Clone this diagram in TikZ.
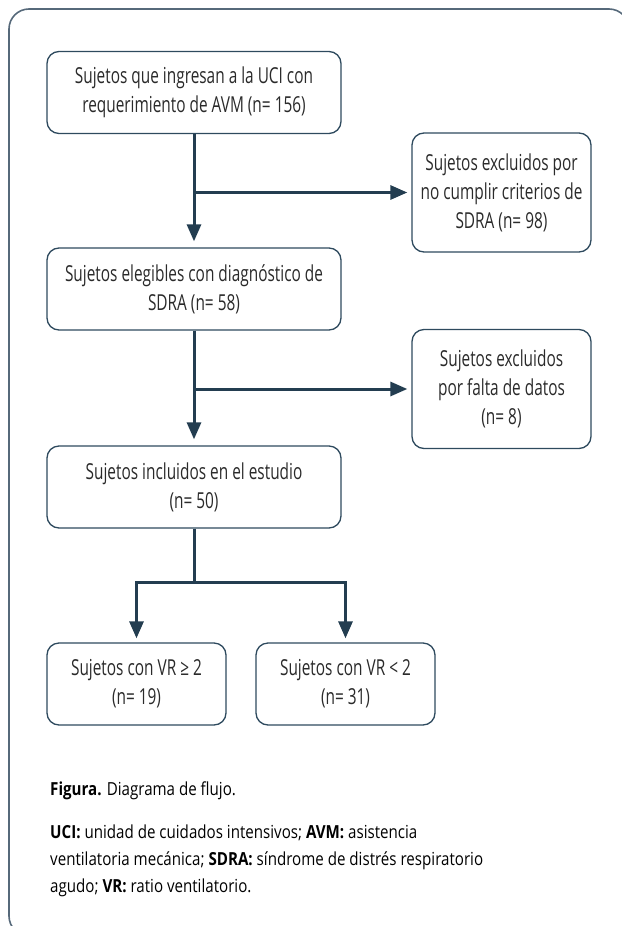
\documentclass[tikz,border=0pt]{standalone}
\usepackage{fontspec}
\setmainfont{Open Sans}[FakeStretch=0.70]
\newfontfamily\capfont{Open Sans}[FakeStretch=0.84]
\usetikzlibrary{arrows.meta,calc}
\definecolor{connc}{HTML}{233D50}
\definecolor{boxline}{HTML}{2E4A5E}
\definecolor{framec}{HTML}{56697A}
\definecolor{txt}{HTML}{2A2A2A}
\begin{document}
\begin{tikzpicture}[x=1pt,y=-1pt,
  basebox/.style={draw=boxline, line width=1.3pt, rounded corners=12pt, inner sep=0pt,
    align=center, text=txt, font=\fontsize{22}{29}\selectfont},
  widebox/.style={basebox, minimum width=294pt, minimum height=82pt},
  sidebox/.style={basebox, minimum width=179pt, minimum height=119pt},
  smallbox/.style={basebox, minimum width=179pt, minimum height=82pt},
  connline/.style={draw=connc, line width=3pt},
  conn/.style={connline, -{Triangle[length=17pt,width=14pt]}, shorten >=6pt},
  captext/.style={anchor=base west, inner sep=0pt, text=black, font=\capfont\fontsize{18}{28}\selectfont}
]
\useasboundingbox (0,0) rectangle (621,926);
% frame
\draw[framec, line width=1.6pt, rounded corners=20pt] (9,9) rectangle (629,936);

% boxes
\node[widebox] (b1) at (194,92.5) {Sujetos que ingresan a la UCI con\\requerimiento de AVM (n= 156)};
\node[sidebox] (b2) at (501.5,192.5) {Sujetos excluidos por\\no cumplir criterios de\\SDRA (n= 98)};
\node[widebox] (b3) at (194,289) {Sujetos elegibles con diagnóstico de\\SDRA (n= 58)};
\node[sidebox] (b4) at (501.5,389) {Sujetos excluidos\\por falta de datos\\(n= 8)};
\node[widebox] (b5) at (194,487) {Sujetos incluidos en el estudio\\(n= 50)};
\node[smallbox] (b6) at (136.5,684) {Sujetos con VR ≥ 2\\(n= 19)};
\node[smallbox] (b7) at (345.5,684) {Sujetos con VR < 2\\(n= 31)};

% connectors
\draw[conn] (b1.south) -- (b3.north);
\draw[conn, shorten >=4pt] (b1.south |- b2.west) -- (b2.west);
\draw[conn] (b3.south) -- (b5.north);
\draw[conn, shorten >=4pt] (b3.south |- b4.west) -- (b4.west);
\coordinate (split) at ($(b5.south)+(0,54)$);
\draw[connline] (b5.south) -- (split);
\draw[conn, shorten >=4pt] (split) -| (b6.north);
\draw[conn, shorten >=4pt] (split) -| (b7.north);

% caption
\node[captext] (fig) at (50,795) {\textbf{Figura.} Diagrama de flujo.};
\node[captext] (ab1) at (50,838) {\textbf{UCI:} unidad de cuidados intensivos; \textbf{AVM:} asistencia};
\node[captext] (ab2) at (50,865) {ventilatoria mecánica; \textbf{SDRA:} síndrome de distrés respiratorio};
\node[captext] (ab3) at (50,892) {agudo; \textbf{VR:} ratio ventilatorio.};
\end{tikzpicture}
\end{document}
